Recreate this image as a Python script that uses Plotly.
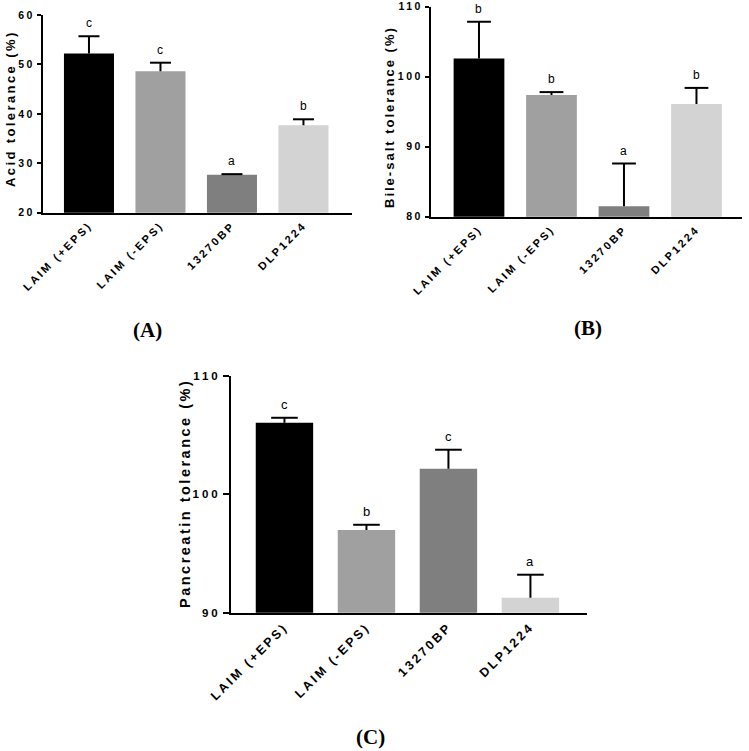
import plotly.graph_objects as go

# ---------------- data ----------------
categories = ["LAIM (+EPS)", "LAIM (-EPS)", "13270BP", "DLP1224"]
bar_colors = ["#000000", "#a0a0a0", "#7f7f7f", "#d3d3d3"]

acid_values = [52.2, 48.6, 27.7, 37.7]
acid_errors = [3.5, 1.75, 0.1, 1.2]
acid_letters = ["c", "c", "a", "b"]
acid_ticks = [20, 30, 40, 50, 60]

bile_values = [102.6, 97.4, 81.5, 96.1]
bile_errors = [5.25, 0.4, 6.1, 2.3]
bile_letters = ["b", "b", "a", "b"]
bile_ticks = [80, 90, 100, 110]

panc_values = [106.05, 96.98, 102.17, 91.26]
panc_errors = [0.42, 0.45, 1.6, 1.95]
panc_letters = ["c", "b", "c", "a"]
panc_ticks = [90, 100, 110]

y_titles = ["Acid tolerance (%)", "Bile-salt tolerance (%)", "Pancreatin tolerance (%)"]
panel_labels = ["(A)", "(B)", "(C)"]

# ---------------- layout spec ----------------
W, H = 749, 751
SANS = "Liberation Sans"
SERIF = "Liberation Serif"


def spaced(s, px):
    return f'<span style="letter-spacing:{px}px">{s}</span>'


panels = [
    dict(values=acid_values, errors=acid_errors, letters=acid_letters, ticks=acid_ticks,
         yrange=[20, 60], xpx=[43, 352], ypx=[15, 212.7], xr=[-0.643, 3.679],
         tick_fs=10.5, tick_ls=2.5, title_fs=13, title_ls=2.4, xfs=11, x_ls=2.4,
         letter_fs=12, cap=15, ticklen=4,
         title_pos=(10, 109), label_pos=(147, 330)),
    dict(values=bile_values, errors=bile_errors, letters=bile_letters, ticks=bile_ticks,
         yrange=[80, 110], xpx=[431, 742], ypx=[6.7, 216.7], xr=[-0.662, 3.628],
         tick_fs=10.5, tick_ls=2.5, title_fs=13, title_ls=2.0, xfs=11, x_ls=2.4,
         letter_fs=12, cap=17, ticklen=4,
         title_pos=(389, 117), label_pos=(588, 328)),
    dict(values=panc_values, errors=panc_errors, letters=panc_letters, ticks=panc_ticks,
         yrange=[90, 110], xpx=[231, 587], ypx=[376, 612.7], xr=[-0.652, 3.69],
         tick_fs=11.5, tick_ls=3, title_fs=14.5, title_ls=2.5, xfs=12.5, x_ls=2.6,
         letter_fs=13, cap=19, ticklen=6,
         title_pos=(185, 494), label_pos=(370, 737)),
]

fig = go.Figure()
annotations = []
layout_axes = {}

for i, p in enumerate(panels):
    n = "" if i == 0 else str(i + 1)
    xref, yref = "x" + n, "y" + n
    fig.add_trace(go.Bar(
        x=categories, y=p["values"], width=0.7,
        marker=dict(color=bar_colors, line=dict(width=0)),
        error_y=dict(type="data", symmetric=False, array=p["errors"],
                     arrayminus=[0] * len(p["errors"]), width=0, thickness=2, color="black"),
        xaxis=xref, yaxis=yref, showlegend=False, hoverinfo="skip",
    ))
    tops = [v + e for v, e in zip(p["values"], p["errors"])]
    fig.add_trace(go.Scatter(
        x=categories, y=tops, mode="markers",
        marker=dict(symbol="line-ew", size=p["cap"], line=dict(width=2, color="black")),
        xaxis=xref, yaxis=yref, showlegend=False, hoverinfo="skip", cliponaxis=False,
    ))
    for c, t, l in zip(categories, tops, p["letters"]):
        annotations.append(dict(
            x=c, y=t, xref=xref, yref=yref, text=l, showarrow=False,
            yanchor="bottom", yshift=4,
            font=dict(family=SANS, size=p["letter_fs"], color="#000000")))

    x0, x1 = p["xpx"]
    yt, yb = p["ypx"]
    layout_axes["xaxis" + n] = dict(
        domain=[x0 / W, x1 / W], anchor=yref, range=p["xr"], type="category",
        showline=True, linewidth=2, linecolor="black", ticks="", showgrid=False,
        zeroline=False, tickangle=-45, tickmode="array", tickvals=categories,
        ticktext=[spaced(c, p["x_ls"]) for c in categories],
        tickfont=dict(family=SANS, size=p["xfs"], color="black", weight="bold"),
        fixedrange=True, automargin=False,
    )
    layout_axes["yaxis" + n] = dict(
        domain=[1 - yb / H, 1 - yt / H], anchor=xref, range=p["yrange"],
        showline=True, linewidth=2, linecolor="black", ticks="outside",
        ticklen=p["ticklen"], tickwidth=2, tickcolor="black", showgrid=False,
        zeroline=False, tickmode="array", tickvals=p["ticks"],
        ticktext=[spaced(str(t), p["tick_ls"]) for t in p["ticks"]],
        tickfont=dict(family=SANS, size=p["tick_fs"], color="black", weight="bold"),
        fixedrange=True, automargin=False,
    )
    tx, ty = p["title_pos"]
    annotations.append(dict(
        x=tx / W, y=1 - ty / H, xref="paper", yref="paper", showarrow=False,
        text=spaced(y_titles[i], p["title_ls"]), textangle=-90,
        xanchor="center", yanchor="middle",
        font=dict(family=SANS, size=p["title_fs"], color="black", weight="bold")))
    lx, ly = p["label_pos"]
    annotations.append(dict(
        x=lx / W, y=1 - ly / H, xref="paper", yref="paper", showarrow=False,
        text=panel_labels[i], xanchor="center", yanchor="middle",
        font=dict(family=SERIF, size=21, color="black", weight="bold")))

fig.update_layout(
    width=W, height=H, margin=dict(l=0, r=0, t=0, b=0, autoexpand=False),
    paper_bgcolor="white", plot_bgcolor="white", hovermode=False,
    annotations=annotations, showlegend=False, **layout_axes,
)

fig.write_html(
    "out.html",
    config={"displayModeBar": False, "staticPlot": True},
    post_script="document.body.style.margin='0';document.body.style.overflow='hidden';",
)
